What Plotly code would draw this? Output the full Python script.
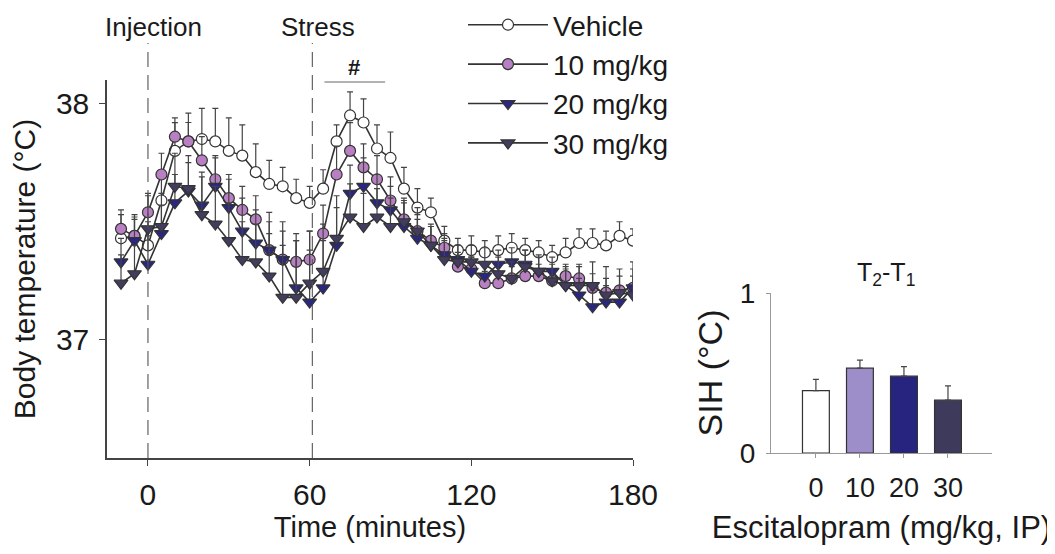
import plotly.graph_objects as go

# ---------------- data ----------------
time_min = [-10, -5, 0, 5, 10, 15, 20, 25, 30, 35, 40, 45, 50, 55, 60,
            65, 70, 75, 80, 85, 90, 95, 100, 105, 110, 115, 120,
            125, 130, 135, 140, 145, 150, 155, 160, 165, 170, 175, 180]

vehicle = [37.43, 37.44, 37.40, 37.59, 37.80, 37.84, 37.85, 37.84, 37.80, 37.78, 37.71, 37.66, 37.65, 37.60, 37.58,
           37.64, 37.84, 37.95, 37.92, 37.81, 37.77, 37.64, 37.56, 37.54, 37.42, 37.38, 37.38,
           37.37, 37.38, 37.39, 37.38, 37.37, 37.35, 37.37, 37.41, 37.41, 37.40, 37.44, 37.42]
vehicle_err = [0.10, 0.09, 0.10, 0.13, 0.12, 0.12, 0.13, 0.14, 0.14, 0.13, 0.12, 0.10, 0.08, 0.08, 0.07,
               0.08, 0.07, 0.10, 0.10, 0.10, 0.11, 0.09, 0.08, 0.06, 0.06, 0.05, 0.06,
               0.05, 0.06, 0.06, 0.05, 0.05, 0.05, 0.06, 0.06, 0.06, 0.06, 0.06, 0.05]

mg10 = [37.47, 37.44, 37.54, 37.70, 37.86, 37.84, 37.76, 37.68, 37.60, 37.55, 37.51, 37.38, 37.34, 37.33, 37.34,
        37.45, 37.70, 37.80, 37.73, 37.68, 37.59, 37.51, 37.46, 37.42, 37.39, 37.31, 37.30,
        37.24, 37.24, 37.26, 37.27, 37.27, 37.25, 37.27, 37.26, 37.22, 37.20, 37.21, 37.22]
mg10_err = [0.08, 0.07, 0.08, 0.09, 0.08, 0.08, 0.10, 0.10, 0.10, 0.10, 0.10, 0.12, 0.12, 0.12, 0.12,
            0.12, 0.12, 0.12, 0.10, 0.10, 0.10, 0.08, 0.07, 0.07, 0.06, 0.06, 0.05,
            0.05, 0.05, 0.05, 0.05, 0.05, 0.05, 0.05, 0.06, 0.06, 0.06, 0.06, 0.05]

mg20 = [37.33, 37.42, 37.32, 37.45, 37.58, 37.63, 37.57, 37.65, 37.56, 37.46, 37.41, 37.38, 37.34, 37.22, 37.16,
        37.22, 37.40, 37.62, 37.65, 37.58, 37.55, 37.48, 37.43, 37.40, 37.36, 37.34, 37.29,
        37.27, 37.32, 37.33, 37.32, 37.29, 37.29, 37.23, 37.19, 37.14, 37.16, 37.16, 37.22]
mg20_err = [0.10, 0.10, 0.12, 0.12, 0.12, 0.12, 0.14, 0.12, 0.12, 0.14, 0.14, 0.16, 0.16, 0.20, 0.22,
            0.20, 0.16, 0.12, 0.12, 0.12, 0.10, 0.10, 0.08, 0.08, 0.07, 0.06, 0.06,
            0.06, 0.06, 0.06, 0.06, 0.06, 0.06, 0.07, 0.07, 0.07, 0.07, 0.07, 0.08]

mg30 = [37.24, 37.28, 37.47, 37.48, 37.65, 37.64, 37.53, 37.49, 37.42, 37.34, 37.33, 37.27, 37.18, 37.18, 37.24,
        37.29, 37.43, 37.52, 37.48, 37.52, 37.48, 37.50, 37.46, 37.40, 37.34, 37.33, 37.33,
        37.32, 37.28, 37.26, 37.31, 37.29, 37.25, 37.23, 37.23, 37.23, 37.19, 37.20, 37.19]
mg30_err = [0.12, 0.12, 0.14, 0.14, 0.14, 0.14, 0.16, 0.16, 0.16, 0.16, 0.16, 0.18, 0.22, 0.24, 0.22,
            0.20, 0.18, 0.14, 0.14, 0.12, 0.12, 0.10, 0.10, 0.08, 0.08, 0.07, 0.07,
            0.07, 0.07, 0.07, 0.07, 0.07, 0.07, 0.08, 0.08, 0.10, 0.12, 0.10, 0.14]

series_names = ["Vehicle", "10 mg/kg", "20 mg/kg", "30 mg/kg"]

dose_labels = ["0", "10", "20", "30"]
sih = [0.39, 0.53, 0.48, 0.33]
sih_err = [0.07, 0.05, 0.06, 0.09]

x_ticks = [0, 60, 120, 180]
y_ticks = [37, 38]
events = [(0, "Injection"), (61, "Stress")]

# ---------------- layout helpers (page offset of the figure inside the browser) ----------------
W, H = 1055, 554
OFF = 8


def px(xp):
    return (xp - OFF) / W


def py(yp):
    return 1 - (yp - OFF) / H


FONT = "Liberation Sans, Arial, sans-serif"
TXT = "#1a1a1a"
LINE = "#333333"
marker_fills = ["#ffffff", "#b97fc3", "#2a2783", "#423d5f"]
bar_fills = ["#ffffff", "#9d8dc8", "#26247e", "#3d3a5c"]
symbols = ["circle", "circle", "triangle-down", "triangle-down"]
sizes = [11, 11, 12, 12]

fig = go.Figure()

for name, y, e, fc, sym, sz in zip(series_names,
                                   [vehicle, mg10, mg20, mg30],
                                   [vehicle_err, mg10_err, mg20_err, mg30_err],
                                   marker_fills, symbols, sizes):
    fig.add_trace(go.Scatter(
        x=time_min, y=y, name=name, mode="lines+markers",
        line=dict(color=LINE, width=1.6),
        marker=dict(symbol=sym, size=sz, color=fc, line=dict(color=LINE, width=1.2)),
        error_y=dict(type="data", symmetric=False, array=e, arrayminus=[0] * len(e),
                     color="#444444", thickness=1.2, width=3),
        xaxis="x", yaxis="y",
    ))

fig.add_trace(go.Bar(
    x=dose_labels, y=sih, showlegend=False,
    marker=dict(color=bar_fills, line=dict(color=LINE, width=1.2)),
    width=0.61,
    error_y=dict(type="data", symmetric=False, array=sih_err, arrayminus=[0] * 4,
                 color="#444444", thickness=1.2, width=3),
    xaxis="x2", yaxis="y2",
))

# event dashed lines + labels
for xv, label in events:
    fig.add_shape(type="line", xref="x", yref="paper", x0=xv, x1=xv,
                  y0=py(458), y1=py(43),
                  line=dict(color="#555555", width=1.1, dash="15px,8px"))
    fig.add_annotation(xref="x", yref="paper", x=xv, y=py(27), text=label,
                       showarrow=False, xshift=6, yanchor="middle",
                       font=dict(family=FONT, size=26, color=TXT))

# significance marker
fig.add_shape(type="line", xref="x", yref="paper", x0=65.5, x1=88,
              y0=py(82), y1=py(82), line=dict(color="#666666", width=1.2))
fig.add_annotation(xref="x", yref="paper", x=76.5, y=py(68), text="<b>#</b>",
                   showarrow=False, yanchor="middle", font=dict(family=FONT, size=22, color=TXT))

# inset title
fig.add_annotation(xref="x2 domain", yref="paper", x=0.5, y=py(274),
                   text="T<sub>2</sub>-T<sub>1</sub>", showarrow=False, yanchor="middle",
                   xshift=4, font=dict(family=FONT, size=25, color=TXT))

axis_common = dict(showgrid=False, zeroline=False, automargin=False, showline=True)

fig.update_layout(
    template="none",
    width=W, height=H,
    margin=dict(l=0, r=0, t=0, b=0, pad=0, autoexpand=False),
    paper_bgcolor="white", plot_bgcolor="white",
    font=dict(family=FONT, color=TXT, size=26),
    showlegend=True,
    legend=dict(x=px(463), y=py(0), xanchor="left", yanchor="top",
                font=dict(family=FONT, size=28, color=TXT),
                bgcolor="rgba(0,0,0,0)", borderwidth=0, itemwidth=80, tracegroupgap=0),
    xaxis=dict(domain=[px(107), px(633)], range=[-15.2, 180],
               tickvals=x_ticks, ticks="outside", ticklen=6, tickwidth=1.3, tickcolor="#444",
               linecolor="#444", linewidth=1.5, tickfont=dict(size=30), ticklabelstandoff=3,
               title=dict(text="Time (minutes)", font=dict(size=29), standoff=7),
               **axis_common),
    yaxis=dict(domain=[py(458), py(80)], range=[36.5, 38.1],
               tickvals=y_ticks, ticks="outside", ticklen=6, tickwidth=1.3, tickcolor="#444",
               linecolor="#444", linewidth=1.5, tickfont=dict(size=30), ticklabelstandoff=4,
               title=dict(text="Body temperature (°C)", font=dict(size=30), standoff=12),
               **axis_common),
    xaxis2=dict(domain=[px(771), px(992)], range=[-1.02, 4.0], type="category",
                anchor="y2", ticks="outside", ticklen=4, tickcolor="#999",
                linecolor="#999", linewidth=1.2, tickfont=dict(size=27), ticklabelstandoff=6,
                title=dict(text="Escitalopram (mg/kg, IP)", font=dict(size=31), standoff=14),
                **axis_common),
    yaxis2=dict(domain=[py(453), py(293)], range=[0, 1], anchor="x2",
                tickvals=[0, 1], ticks="outside", ticklen=4, tickcolor="#999",
                linecolor="#999", linewidth=1.2, tickfont=dict(size=28), ticklabelstandoff=5,
                title=dict(text="SIH (°C)", font=dict(size=34), standoff=6),
                **axis_common),
)

fig.write_html("out.html")
